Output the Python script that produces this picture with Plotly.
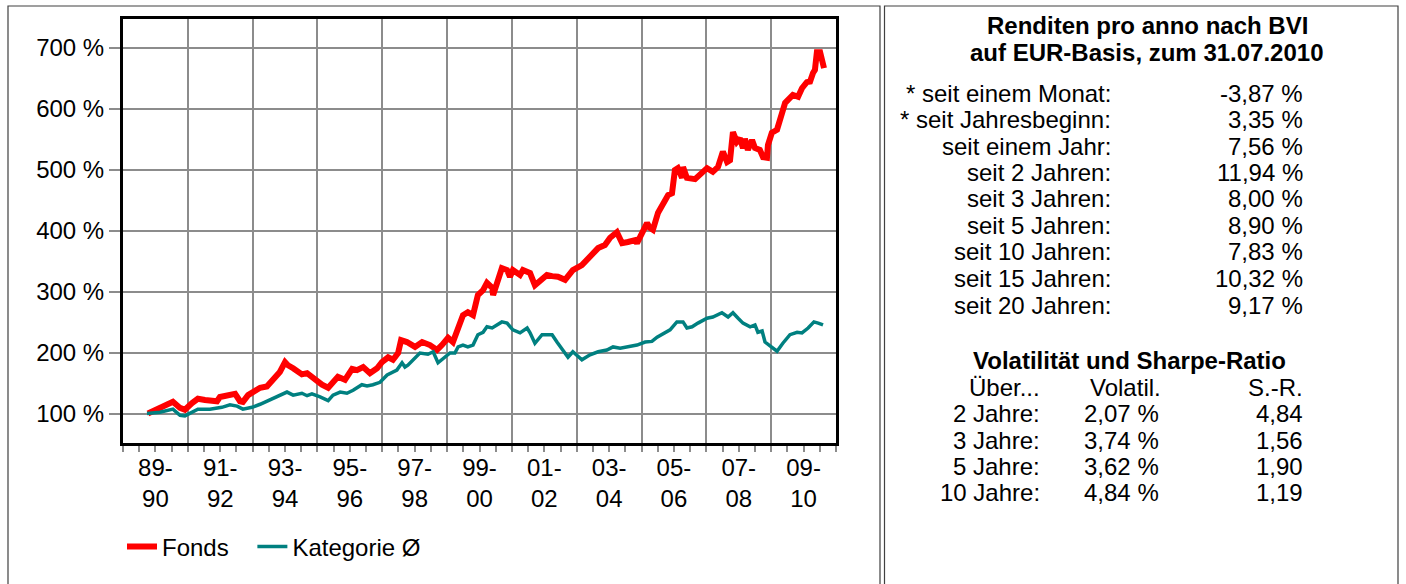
import plotly.graph_objects as go

# ---------------- data ----------------
fonds_x = [1989.77, 1989.93, 1990.30, 1990.54, 1990.76, 1990.91, 1991.13, 1991.31, 1991.53, 1991.90,
           1991.99, 1992.21, 1992.46, 1992.61, 1992.70, 1992.86, 1993.01, 1993.23, 1993.44, 1993.63,
           1993.84, 1994.00, 1994.09, 1994.25, 1994.52, 1994.68, 1994.86, 1995.14, 1995.33, 1995.48,
           1995.63, 1995.85, 1996.07, 1996.22, 1996.41, 1996.62, 1996.84, 1996.99, 1997.18, 1997.33,
           1997.49, 1997.58, 1997.76, 1998.01, 1998.23, 1998.47, 1998.69, 1998.84, 1999.03, 1999.18,
           1999.34, 1999.49, 1999.64, 1999.80, 1999.95, 2000.11, 2000.23, 2000.39, 2000.42, 2000.54,
           2000.69, 2000.85, 2000.94, 2001.03, 2001.25, 2001.34, 2001.56, 2001.71, 2001.87, 2002.08,
           2002.24, 2002.42, 2002.64, 2002.88, 2003.16, 2003.32, 2003.47, 2003.66, 2003.87, 2004.03,
           2004.24, 2004.40, 2004.58, 2004.80, 2004.86, 2005.01, 2005.17, 2005.26, 2005.35, 2005.51,
           2005.66, 2005.82, 2005.94, 2006.03, 2006.12, 2006.25, 2006.28, 2006.40, 2006.65, 2006.86,
           2007.02, 2007.20, 2007.36, 2007.51, 2007.64, 2007.73, 2007.82, 2007.94, 2008.04, 2008.13,
           2008.19, 2008.28, 2008.41, 2008.50, 2008.65, 2008.75, 2008.87, 2008.90, 2009.02, 2009.18,
           2009.33, 2009.43, 2009.52, 2009.67, 2009.83, 2009.95, 2010.10, 2010.20, 2010.29, 2010.35,
           2010.41, 2010.51, 2010.63]
fonds_y = [101, 105, 113, 120, 110, 107, 118, 125, 123, 121,
           128, 131, 133, 121, 120, 131, 136, 143, 145, 156,
           169, 185, 180, 175, 165, 167, 159, 148, 143, 152,
           161, 156, 174, 172, 177, 167, 175, 185, 193, 189,
           200, 221, 218, 210, 218, 213, 205, 213, 225, 218,
           243, 262, 267, 262, 295, 303, 315, 307, 295, 315,
           339, 336, 325, 336, 328, 336, 331, 311, 318, 328,
           326, 325, 320, 336, 344, 352, 361, 372, 377, 389,
           398, 380, 382, 385, 380, 397, 413, 405, 402, 430,
           446, 459, 462, 500, 503, 487, 505, 487, 485, 495,
           503, 497, 505, 530, 513, 516, 562, 546, 552, 536,
           551, 533, 549, 536, 533, 521, 520, 541, 561, 566,
           590, 610, 615, 623, 620, 634, 644, 645, 659, 664,
           693, 693, 667]

kat_x = [1989.74, 1990.14, 1990.54, 1990.76, 1990.91, 1991.13, 1991.31, 1991.68, 1991.90, 1992.05,
         1992.30, 1992.52, 1992.70, 1992.98, 1993.23, 1993.54, 1993.84, 1994.06, 1994.25, 1994.52,
         1994.68, 1994.83, 1995.08, 1995.33, 1995.48, 1995.70, 1995.91, 1996.10, 1996.37, 1996.53,
         1996.71, 1996.93, 1997.15, 1997.45, 1997.61, 1997.70, 1997.79, 1997.95, 1998.16, 1998.41,
         1998.57, 1998.72, 1998.94, 1999.09, 1999.24, 1999.34, 1999.49, 1999.64, 1999.80, 1999.95,
         2000.11, 2000.23, 2000.39, 2000.54, 2000.69, 2000.85, 2001.03, 2001.25, 2001.47, 2001.56,
         2001.71, 2001.93, 2002.24, 2002.39, 2002.58, 2002.73, 2002.88, 2003.16, 2003.41, 2003.66,
         2003.93, 2004.12, 2004.34, 2004.55, 2004.86, 2005.11, 2005.32, 2005.48, 2005.72, 2005.88,
         2006.09, 2006.28, 2006.40, 2006.56, 2006.74, 2007.02, 2007.20, 2007.48, 2007.67, 2007.82,
         2007.98, 2008.13, 2008.35, 2008.50, 2008.59, 2008.72, 2008.81, 2009.02, 2009.18, 2009.36,
         2009.58, 2009.80, 2009.95, 2010.14, 2010.32, 2010.45, 2010.60]
kat_y = [101, 103, 108, 98, 97, 103, 108, 108, 109, 111,
         115, 113, 108, 111, 116, 123, 130, 136, 131, 134,
         130, 133, 128, 122, 131, 136, 134, 139, 148, 146,
         148, 152, 164, 172, 184, 177, 180, 189, 200, 198,
         202, 184, 193, 200, 200, 210, 213, 210, 213, 230,
         234, 243, 241, 246, 251, 249, 238, 233, 241, 233,
         216, 230, 230, 218, 205, 193, 202, 189, 197, 202,
         205, 210, 208, 210, 213, 218, 219, 226, 234, 238,
         251, 251, 241, 243, 249, 257, 259, 266, 259, 266,
         257, 249, 243, 246, 234, 236, 218, 210, 203, 216,
         230, 234, 233, 241, 251, 249, 246]

y_ticks = [100, 200, 300, 400, 500, 600, 700]
y_ticktext = ["100 %", "200 %", "300 %", "400 %", "500 %", "600 %", "700 %"]
period_ticks = [1990, 1992, 1994, 1996, 1998, 2000, 2002, 2004, 2006, 2008, 2010]
period_labels = ["89-<br>90", "91-<br>92", "93-<br>94", "95-<br>96", "97-<br>98", "99-<br>00",
                 "01-<br>02", "03-<br>04", "05-<br>06", "07-<br>08", "09-<br>10"]
grid_years = [1989, 1991, 1993, 1995, 1997, 1999, 2001, 2003, 2005, 2007, 2009, 2011]
half_years = [1989 + 0.5 * i for i in range(45)]

ret_labels = ["* seit einem Monat:", "* seit Jahresbeginn:", "seit einem Jahr:", "seit 2 Jahren:",
              "seit 3 Jahren:", "seit 5 Jahren:", "seit 10 Jahren:", "seit 15 Jahren:", "seit 20 Jahren:"]
ret_values = ["-3,87 %", "3,35 %", "7,56 %", "11,94 %", "8,00 %", "8,90 %", "7,83 %", "10,32 %", "9,17 %"]
vol_periods = ["2 Jahre:", "3 Jahre:", "5 Jahre:", "10 Jahre:"]
vol_values = ["2,07 %", "3,74 %", "3,62 %", "4,84 %"]
sharpe_values = ["4,84", "1,56", "1,90", "1,19"]

# ---------------- figure ----------------
W, H = 1406, 584
FONT = "Liberation Sans, Arial, sans-serif"
FS = 24
GRID = "#8c8c8c"


def px(x):
    return x / W


def py(y):
    return 1 - y / H


fig = go.Figure()
fig.add_trace(go.Scatter(x=fonds_x, y=fonds_y, mode="lines", name="Fonds\u2002\u00a0",
                         line=dict(color="#ff0000", width=6)))
fig.add_trace(go.Scatter(x=kat_x, y=kat_y, mode="lines", name="Kategorie Ø",
                         line=dict(color="#008080", width=3.5)))
fig.add_trace(go.Scatter(x=[], y=[], xaxis="x2", showlegend=False))

x_dom = [px(123), px(836)]
y_dom = [py(443), py(19)]

fig.update_layout(
    width=W, height=H,
    margin=dict(l=0, r=0, t=0, b=0),
    paper_bgcolor="white", plot_bgcolor="white",
    font=dict(family=FONT, size=FS, color="black"),
    showlegend=True,
    legend=dict(orientation="h", x=px(122), y=py(547), xanchor="left", yanchor="middle",
                font=dict(size=FS), bgcolor="rgba(0,0,0,0)", itemwidth=30),
    xaxis=dict(domain=x_dom, range=[1989, 2011], tickmode="array", tickvals=grid_years,
               ticktext=[""] * len(grid_years), showgrid=True, gridcolor=GRID, gridwidth=2,
               ticks="outside", ticklen=11, tickwidth=2, tickcolor=GRID,
               showline=True, linecolor="black", linewidth=3, mirror=True, zeroline=False,
               minor=dict(tickmode="array", tickvals=half_years, ticks="outside", ticklen=6,
                          tickwidth=2, tickcolor=GRID, showgrid=False)),
    xaxis2=dict(overlaying="x", anchor="y", side="bottom", range=[1989, 2011], matches="x",
                tickmode="array", tickvals=period_ticks, ticktext=period_labels,
                showgrid=False, showline=False, zeroline=False, ticks="",
                ticklabelstandoff=8, tickfont=dict(size=FS)),
    yaxis=dict(domain=y_dom, range=[52.5, 747.5], tickmode="array", tickvals=y_ticks,
               ticktext=y_ticktext, showgrid=True, gridcolor=GRID, gridwidth=2,
               ticks="outside", ticklen=11, tickwidth=2, tickcolor=GRID,
               showline=True, linecolor="black", linewidth=3, mirror=True, zeroline=False,
               tickfont=dict(size=FS)),
)

# reference line at 100 %
fig.add_shape(type="line", xref="x domain", yref="y", x0=0, x1=1, y0=100, y1=100,
              line=dict(color="black", width=2), layer="below")

# panel frames
fig.add_shape(type="rect", xref="paper", yref="paper", x0=px(8), x1=px(880), y0=-0.05, y1=py(6),
              line=dict(color="#404040", width=1.2))
fig.add_shape(type="rect", xref="paper", yref="paper", x0=px(884.5), x1=px(1398), y0=-0.05, y1=py(6),
              line=dict(color="#404040", width=1.2))


def ann(text, x, y, xanchor, bold=False, size=FS):
    fig.add_annotation(text=f"<b>{text}</b>" if bold else text, xref="paper", yref="paper",
                       x=px(x), y=py(y), xanchor=xanchor, yanchor="middle", showarrow=False,
                       font=dict(family=FONT, size=size, color="black"))


ann("Renditen pro anno nach BVI", 1147, 25, "center", bold=True)
ann("auf EUR-Basis, zum 31.07.2010", 1147, 53, "center", bold=True)
for i, (lab, val) in enumerate(zip(ret_labels, ret_values)):
    yy = 93 + 26.5 * i
    ann(lab, 1113, yy, "right")
    ann(val, 1305, yy, "right")

ann("Volatilität und Sharpe-Ratio", 1129, 360, "center", bold=True)
ann("Über...", 1042, 387, "right")
ann("Volatil.", 1088, 387, "left")
ann("S.-R.", 1305, 387, "right")
for i, (p, v, s) in enumerate(zip(vol_periods, vol_values, sharpe_values)):
    yy = 414 + 26.3 * i
    ann(p, 1042, yy, "right")
    ann(v, 1161, yy, "right")
    ann(s, 1305, yy, "right")

fig.write_html("out.html", config={"displayModeBar": False},
               post_script="document.body.style.margin='0px';")
